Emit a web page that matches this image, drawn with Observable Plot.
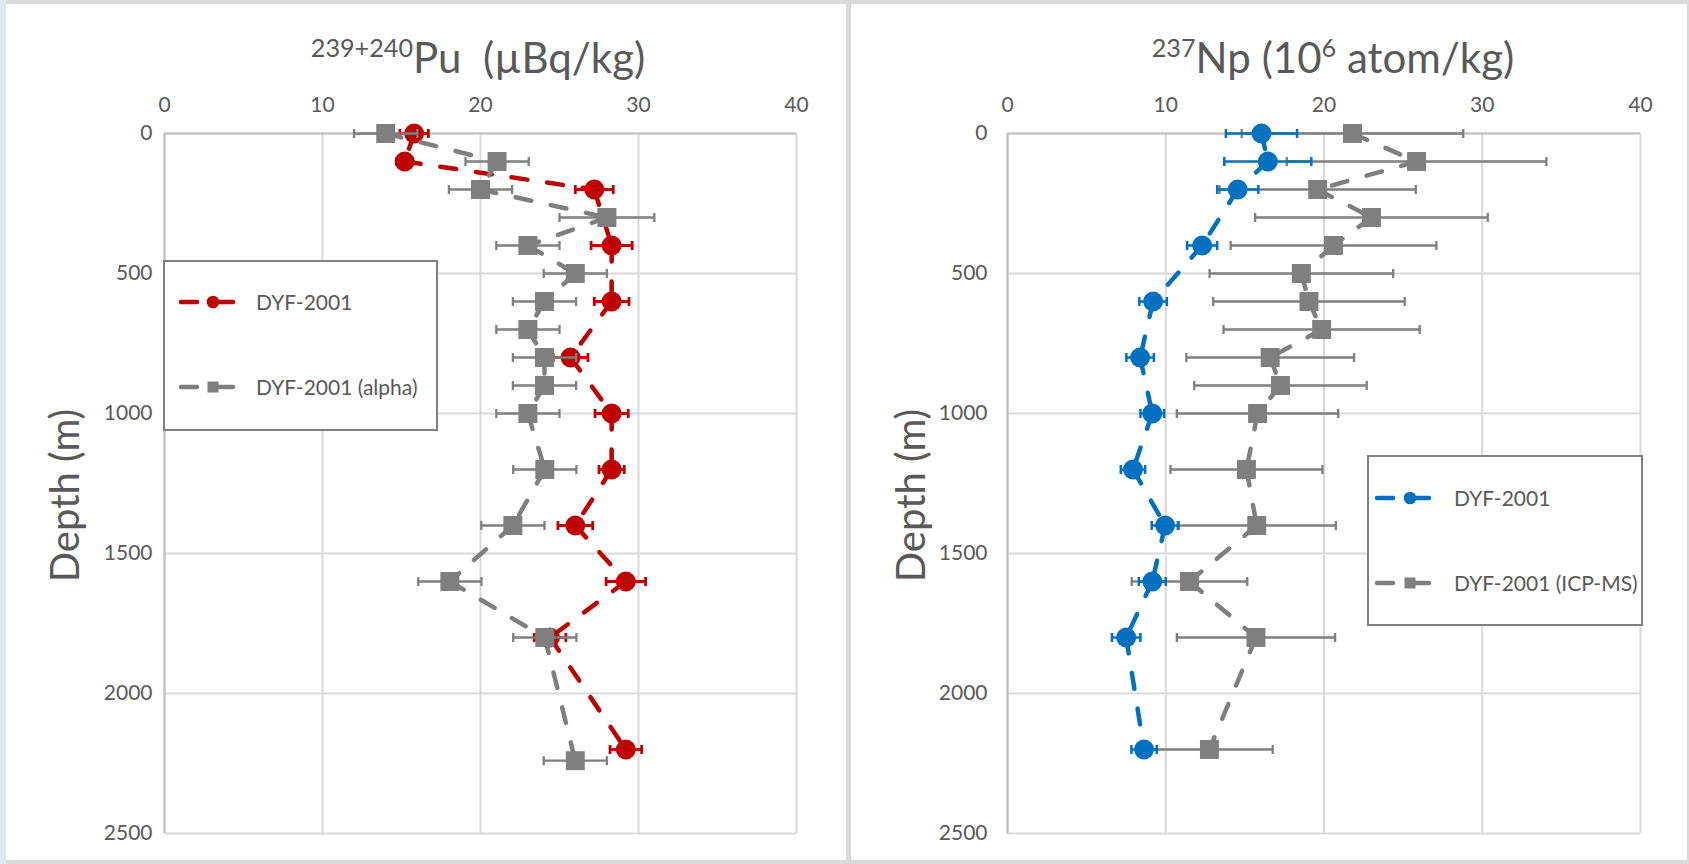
<!DOCTYPE html>
<html>
<head>
<meta charset="utf-8">
<script src="https://cdn.jsdelivr.net/npm/d3@7"></script>
<script src="https://cdn.jsdelivr.net/npm/@observablehq/plot@0.6"></script>
<style>
  html, body { margin: 0; padding: 0; }
  body { width: 1689px; height: 864px; background: #dadada; position: relative; overflow: hidden; font-family: Lato, "Open Sans", sans-serif; }
  .panel { position: absolute; background: #ffffff; }
  .edge { position: absolute; background: #dce8f6; }
  .chart { position: absolute; top: 0; }
  .title { position: absolute; color: #595959; font-size: 42px; line-height: 42px; white-space: nowrap; transform: translateX(-50%); }
  .title .sup { font-size: 0.6em; position: relative; top: -0.62em; }
  .legend { position: absolute; box-sizing: border-box; border: 2px solid #808080; background: #fff; }
  .legend svg { position: absolute; left: 0; top: 0; overflow: visible; }
  .legend .lab { position: absolute; color: #595959; font-size: 21px; line-height: 21px; white-space: nowrap; }
</style>
</head>
<body>
<div class="edge" style="left:0;top:0;width:6px;height:864px"></div>
<div class="panel" style="left:6px;top:4px;width:840px;height:856px"></div>
<div class="panel" style="left:851px;top:4px;width:836px;height:856px"></div>
<div id="left" class="chart" style="left:0"></div>
<div id="right" class="chart" style="left:848px"></div>
<div class="title" style="left:478px;top:36px"><span class="sup">239+240</span>Pu&nbsp;&nbsp;(µBq/kg)</div>
<div class="title" style="left:1333px;top:36px"><span class="sup">237</span>Np (10<span class="sup">6</span> atom/kg)</div>
<div id="legL"></div>
<div id="legR"></div>
<script>
// ---- data ----
const xTicks = [0, 10, 20, 30, 40];
const depthTicks = [0, 500, 1000, 1500, 2000, 2500];

const puDepth = [0, 100, 200, 400, 600, 800, 1000, 1200, 1400, 1600, 1800, 2200];
const puValue = [15.8, 15.2, 27.2, 28.3, 28.3, 25.7, 28.3, 28.3, 26.0, 29.2, 24.4, 29.2];
const puError = [0.9, 0.5, 1.2, 1.3, 1.1, 1.1, 1.05, 0.8, 1.1, 1.25, 1.0, 1.0];

const puAlphaDepth = [0, 100, 200, 300, 400, 500, 600, 700, 800, 900, 1000, 1200, 1400, 1600, 1800, 2240];
const puAlphaValue = [14.0, 21.05, 20.0, 28.0, 23.0, 26.0, 24.05, 23.0, 24.05, 24.05, 23.0, 24.07, 22.05, 18.06, 24.07, 26.0];
const puAlphaError = [2, 2, 2, 3, 2, 2, 2, 2, 2, 2, 2, 2, 2, 2, 2, 2];

const npDepth = [0, 100, 200, 400, 600, 800, 1000, 1200, 1400, 1600, 1800, 2200];
const npValue = [16.05, 16.45, 14.55, 12.3, 9.2, 8.38, 9.15, 7.93, 9.96, 9.15, 7.5, 8.63];
const npError = [2.25, 2.75, 1.3, 0.95, 0.87, 0.87, 0.75, 0.77, 0.85, 0.85, 0.9, 0.8];

const npIcpDepth = [0, 100, 200, 300, 400, 500, 600, 700, 800, 900, 1000, 1200, 1400, 1600, 1800, 2200];
const npIcpValue = [21.8, 25.85, 19.6, 23.0, 20.6, 18.57, 19.05, 19.85, 16.6, 17.25, 15.8, 15.1, 15.75, 11.5, 15.7, 12.76];
const npIcpError = [7.0, 8.2, 6.2, 7.35, 6.5, 5.8, 6.05, 6.2, 5.3, 5.45, 5.1, 4.8, 5.0, 3.65, 5.0, 4.0];

const seriesNames = {
  pu: ["DYF-2001", "DYF-2001 (alpha)"],
  np: ["DYF-2001", "DYF-2001 (ICP-MS)"]
};
const RED = "#C00000", GRAY = "#7F7F7F", BLUE = "#0070C0";
const TEXT = "#595959";

// ---- helpers ----
function rows(depth, value, err) {
  return depth.map((d, i) => ({depth: d, value: value[i], err: err[i]}));
}
function segments(r) {
  return r.slice(1).map((b, i) => ({x1: r[i].value, y1: r[i].depth, x2: b.value, y2: b.depth}));
}
const capSymbol = {
  draw(context, size) {
    const h = Math.sqrt(size / Math.PI);
    context.moveTo(0, -h);
    context.lineTo(0, h);
  }
};
function seriesMarks(r, color, symbol, errColor, errWidth) {
  return [
    Plot.link(r, {x1: d => d.value - d.err, x2: d => d.value + d.err, y1: "depth", y2: "depth", stroke: errColor, strokeWidth: errWidth}),
    Plot.dot(r, {x: d => d.value - d.err, y: "depth", symbol: capSymbol, r: 4.5, stroke: errColor, strokeWidth: errWidth, fill: "none"}),
    Plot.dot(r, {x: d => d.value + d.err, y: "depth", symbol: capSymbol, r: 4.5, stroke: errColor, strokeWidth: errWidth, fill: "none"}),
    Plot.link(segments(r), {x1: "x1", y1: "y1", x2: "x2", y2: "y2", stroke: color, strokeWidth: 4.5, strokeDasharray: "16,20", strokeLinecap: "round"}),
    Plot.dot(r, {x: "value", y: "depth", symbol, r: symbol === "square" ? 10.7 : 10, fill: color, stroke: "none"})
  ];
}
function chart(opts) {
  return Plot.plot({
    width: opts.width,
    height: 864,
    marginLeft: opts.marginLeft,
    marginRight: opts.marginRight,
    marginTop: 133,
    marginBottom: 31,
    style: {fontFamily: "Lato, 'Open Sans', sans-serif", fontSize: "21px", color: TEXT, background: "transparent", maxWidth: "none", overflow: "visible"},
    x: {domain: [0, 40], ticks: xTicks, axis: null},
    y: {domain: [0, 2500], reverse: true, ticks: depthTicks, axis: null},
    marks: [
      Plot.gridX(xTicks, {stroke: "#D9D9D9", strokeOpacity: 1, strokeWidth: 2}),
      Plot.gridY(depthTicks, {stroke: "#D9D9D9", strokeOpacity: 1, strokeWidth: 2}),
      Plot.ruleX([0], {stroke: "#BFBFBF", strokeWidth: 2}),
      Plot.ruleY([0], {stroke: "#BFBFBF", strokeWidth: 2}),
      Plot.axisX(xTicks, {anchor: "top", tickSize: 0, tickPadding: 22, fill: TEXT, fontSize: 21, tickFormat: d => String(d)}),
      Plot.axisY(depthTicks, {anchor: "left", tickSize: 0, tickPadding: opts.yPad, fill: TEXT, fontSize: 21, tickFormat: d => String(d)}),
      Plot.text(["Depth (m)"], {frameAnchor: "left", textAnchor: "middle", rotate: -90, dx: opts.labelDx, dy: 12, fontSize: 40, fill: TEXT}),
      ...opts.marks
    ]
  });
}

const puR = rows(puDepth, puValue, puError);
const puA = rows(puAlphaDepth, puAlphaValue, puAlphaError);
const npR = rows(npDepth, npValue, npError);
const npI = rows(npIcpDepth, npIcpValue, npIcpError);

document.getElementById("left").append(chart({
  width: 848, marginLeft: 164, marginRight: 52, yPad: 12, labelDx: -98,
  marks: [
    ...seriesMarks(puR, RED, "circle", RED, 2.8),
    ...seriesMarks(puA, GRAY, "square", GRAY, 2.3)
  ]
}));
document.getElementById("right").append(chart({
  width: 841, marginLeft: 159, marginRight: 49, yPad: 20, labelDx: -95,
  marks: [
    ...seriesMarks(npI, GRAY, "square", GRAY, 2.3),
    ...seriesMarks(npR, BLUE, "circle", BLUE, 2.5)
  ]
}));

// ---- legends ----
function legend(el, box, entries) {
  el.className = "legend";
  Object.assign(el.style, {left: box.x + "px", top: box.y + "px", width: box.w + "px", height: box.h + "px"});
  const ns = "http://www.w3.org/2000/svg";
  const svg = document.createElementNS(ns, "svg");
  svg.setAttribute("width", box.w); svg.setAttribute("height", box.h);
  entries.forEach(e => {
    const cy = e.cy - box.y - 2;
    const x0 = box.sx0 - box.x - 2, x1 = box.sx1 - box.x - 2, mx = box.mx - box.x - 2;
    const line = document.createElementNS(ns, "line");
    line.setAttribute("x1", x0 + 2); line.setAttribute("x2", x1 - 2);
    line.setAttribute("y1", cy); line.setAttribute("y2", cy);
    line.setAttribute("stroke", e.color); line.setAttribute("stroke-width", 4.5);
    line.setAttribute("stroke-linecap", "round"); line.setAttribute("stroke-dasharray", "16,20");
    svg.append(line);
    let m;
    if (e.symbol === "circle") {
      m = document.createElementNS(ns, "circle");
      m.setAttribute("cx", mx); m.setAttribute("cy", cy); m.setAttribute("r", 6.3);
    } else {
      m = document.createElementNS(ns, "rect");
      m.setAttribute("x", mx - 5.5); m.setAttribute("y", cy - 5.5); m.setAttribute("width", 11); m.setAttribute("height", 11);
    }
    m.setAttribute("fill", e.color);
    svg.append(m);
    const t = document.createElement("div");
    t.className = "lab";
    t.textContent = e.label;
    t.style.left = (box.tx - box.x - 2) + "px";
    t.style.top = (cy - 11) + "px";
    el.append(t);
  });
  el.prepend(svg);
}
legend(document.getElementById("legL"),
  {x: 163, y: 260, w: 275, h: 171, sx0: 179, sx1: 235, mx: 213, tx: 256},
  [{label: seriesNames.pu[0], color: RED, symbol: "circle", cy: 302},
   {label: seriesNames.pu[1], color: GRAY, symbol: "square", cy: 387}]);
legend(document.getElementById("legR"),
  {x: 1367, y: 455, w: 276, h: 171, sx0: 1375, sx1: 1431, mx: 1410, tx: 1454},
  [{label: seriesNames.np[0], color: BLUE, symbol: "circle", cy: 498},
   {label: seriesNames.np[1], color: GRAY, symbol: "square", cy: 583}]);
</script>
</body>
</html>
